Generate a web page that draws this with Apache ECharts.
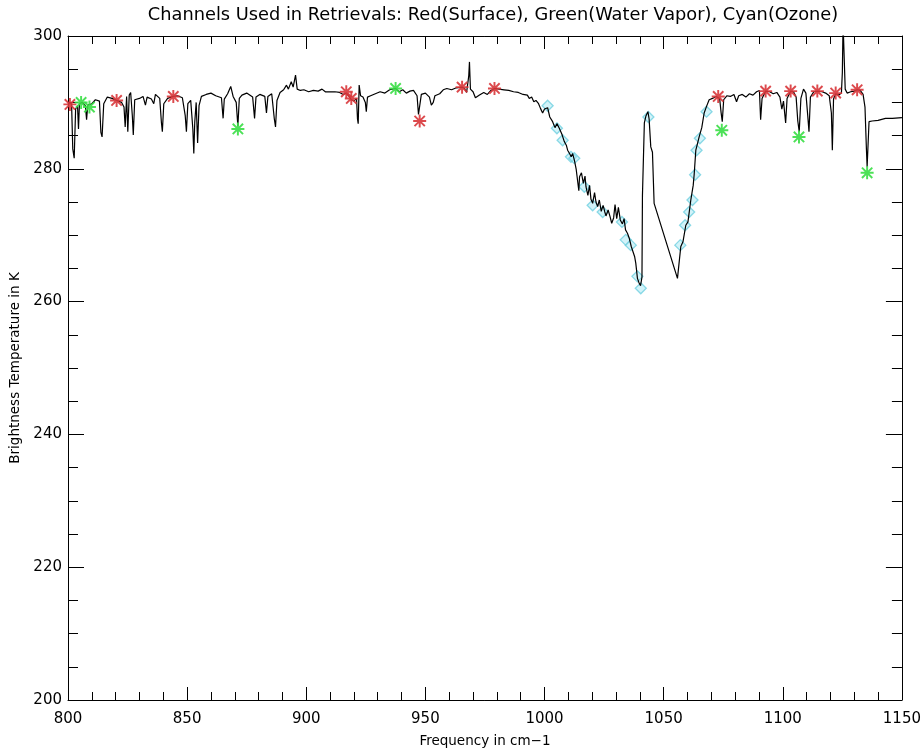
<!DOCTYPE html>
<html>
<head>
<meta charset="utf-8">
<script src="https://cdn.jsdelivr.net/npm/echarts@6/dist/echarts.min.js"></script>
<style>
html,body{margin:0;padding:0;background:#fff;}
#chart{width:924px;height:756px;}
</style>
</head>
<body>
<div id="chart"></div>
<script>
// Spectrum: frequency (cm-1) and brightness temperature (K)
const freq = [800,801.5,802.0,802.6,803.2,804,804.4,804.8,806,807.3,807.8,808.3,810,811.5,813.2,813.8,814.3,815,816.5,818.5,820.4,822.5,823.5,824,824.6,825.1,825.7,826.3,827,827.4,828,830,831.5,832.5,833.2,835,836,836.7,838.5,839.2,839.6,840.2,841.8,844.1,846,848,849.2,849.7,850.3,851.5,852.4,852.8,853.2,853.8,854.4,855,856,858,860,862,864.4,865.1,865.6,867,868.3,869.3,870.6,871.3,871.9,873,875,877.5,878.3,878.9,880.5,882.6,883.3,883.9,885.5,886.6,887.1,887.7,889,890.5,891.7,892.5,893.7,894.5,895.5,896.2,897.5,899,901,903,905,906.6,908,910,912,914,915.5,916.8,917.8,918.9,920,921.1,921.5,921.8,922.2,922.8,923.8,924.8,925.2,925.7,927,929,931,933,935,937.5,939,940.5,942,943.5,945,946.5,947.1,947.9,948.3,950,951.7,952.5,953.3,954,956,957.5,959,961,963,965.4,966.5,967.3,968.2,968.5,968.9,970,971,971.6,972.7,974.5,976,977.5,979,981,983,985,987,989,991,992.8,993.6,994.6,995.5,996.4,997.5,998.3,999.2,1000,1001.3,1002.2,1003.4,1004.4,1005.2,1006.2,1007.3,1008.3,1009.2,1009.7,1010.5,1011.2,1011.8,1012.6,1013.3,1014.1,1014.4,1014.7,1015.5,1016.3,1017,1017.4,1018.2,1018.9,1019.5,1020.2,1021,1021.6,1022.3,1023,1023.8,1024.6,1025.3,1025.8,1026.7,1027.5,1028.2,1029,1029.6,1030.3,1031,1031.8,1032.7,1033.4,1034,1034.8,1035.6,1036.4,1037.2,1037.8,1038.3,1039,1039.7,1040.3,1040.9,1041.1,1041.6,1041.9,1042.6,1043.4,1043.9,1044.6,1045.3,1046,1055.8,1057.2,1058.1,1059.3,1060.2,1061.4,1062.4,1062.8,1063.5,1064.2,1064.9,1066,1067,1068,1069.1,1070.5,1072,1073.5,1074.1,1074.6,1075.2,1076.5,1078,1079.5,1080.6,1081.5,1083,1084.5,1086,1087.5,1089,1090.2,1090.7,1091.3,1092.8,1094.5,1096,1097.5,1098.8,1099.6,1100.3,1101.2,1101.8,1103.3,1104.5,1105.6,1106.3,1106.9,1107.6,1108.7,1109.7,1110.5,1111,1111.6,1113,1114.5,1116.5,1118,1119.5,1120.4,1120.8,1121.3,1122.2,1123.5,1124.6,1125,1125.3,1125.8,1126.2,1127,1128.5,1130,1131.2,1132.5,1133.7,1134.5,1135.1,1135.4,1135.9,1136.2,1137.5,1140,1143.1,1146,1150];
const temp = [289.8,289.8,283,281.6,289,289.5,286,289.8,290,289.5,287.4,289.6,289.8,290.4,290.2,285.5,284.8,289.8,290.8,290.6,290.3,290.0,289.3,286.3,290.9,285.6,291.1,291.5,288,285.1,290.4,290.6,290.9,289.6,290.8,290.5,289.8,291.2,290.6,287,285.6,289.8,290.6,290.9,291.0,290.7,288,285.6,289.8,290.3,286,282.3,287,290,283.9,289.5,290.9,291.2,291.4,291.0,290.7,287.6,290.5,291.3,292.4,290.9,290,286.4,290.6,291.1,291.4,290.8,287.6,290.8,291.2,290.9,288.4,290.9,291.3,287.5,286.3,290.3,291.5,291.9,292.6,292,293.1,292.3,294.1,292,291.8,291.9,291.6,291.8,291.7,292.0,291.6,291.6,291.6,291.5,291.2,291.4,291,290.4,290.2,290.6,287.5,286.8,292.6,291,290.8,290,288.6,290.8,291.0,291.3,291.6,291.4,291.9,292.1,291.6,291.9,291.4,291.7,291.8,291.0,288.2,288.1,291.2,291.4,290.8,289.6,290,291,291.3,291.9,292.1,291.9,292.2,292.3,292.1,291.5,294,296.1,292,291.6,290.7,290.5,291.1,291.5,291.2,291.8,292.1,292.0,291.9,291.8,291.6,291.5,291.2,291.1,290.6,290.8,290.1,290.3,289.8,289.1,288.4,289,289.2,287.8,287.1,286.2,286.8,286.1,285.2,284.1,283.5,282.8,282.3,281.8,282.3,281.2,279.9,280.1,276.7,278.8,279.4,277.8,278.9,277.3,276,277.5,275.4,274.8,276.4,275,274.3,275.3,273.6,274.5,273.5,272.9,273.8,272.8,271.8,272.6,274.6,272.5,274.2,272.3,271.7,272.5,270.8,270.3,269.5,268.3,268.6,266.8,265.8,263.5,262.8,262.4,263.7,276,276.2,286.9,288,288.6,287.5,283.3,282.5,274.8,263.5,268.3,269,271.5,272,275.3,277.5,279.1,282.8,283.8,284.8,286.2,288.4,289.4,290.4,290.6,290.9,290.6,288.5,287.1,290.4,291,290.9,291.2,290.1,291,291.2,290.8,291.3,291.1,291.6,291.8,287.4,290.6,291.7,291.6,291.3,291.5,290.8,289,290.2,286.9,290.6,291.7,291.6,290.8,287.2,285.6,290.6,292.0,291.4,287.9,285.6,290.8,291.6,291.7,291.6,291.4,291.0,288.4,282.8,290.5,291.3,291.1,291.4,294.5,302,302,292,291.4,291.6,291.7,291.9,291.8,291.2,289.3,283,280.3,280.5,287.1,287.2,287.3,287.6,287.6,287.7];

// Channels used in retrievals
const surfaceFreq = [800.8,820.4,844.2,916.8,918.9,947.6,965.4,979.0,1072.9,1092.8,1103.3,1114.5,1122.2,1131.2];
const surfaceTemp = [289.7,290.3,290.9,291.6,290.6,287.2,292.3,292.1,290.9,291.7,291.7,291.7,291.4,291.9];
const vaporFreq = [805.5,809.0,871.3,937.5,1074.4,1106.8,1135.4];
const vaporTemp = [290.0,289.3,286.0,292.1,285.8,284.8,279.4];
const ozoneFreq = [1001.3,1005.2,1007.6,1011.1,1012.5,1016.7,1020.2,1024.4,1032.5,1034.1,1036.2,1039.0,1040.4,1043.6,1057.0,1059.0,1060.7,1062.1,1063.2,1063.8,1065.2,1068.0];
const ozoneTemp = [289.5,286.1,284.3,281.8,281.6,277.3,274.5,273.5,272.0,269.3,268.5,263.8,262.0,287.8,268.5,271.5,273.5,275.3,279.1,282.8,284.6,288.6];

const titleText = 'Channels Used in Retrievals: Red(Surface), Green(Water Vapor), Cyan(Ozone)';
const xName = 'Frequency in cm\u22121';
const yName = 'Brightness Temperature in K';

const zip = (a, b) => a.map((v, i) => [v, b[i]]);

const asterisk = 'path://M0,8.5 L20,8.5 L20,11.5 L0,11.5 Z M8.5,0 L11.5,0 L11.5,20 L8.5,20 Z M1,3.1 L3.1,1 L19,16.9 L16.9,19 Z M16.9,1 L19,3.1 L3.1,19 L1,16.9 Z';

const font = 'DejaVu Sans';
const axisLineStyle = {color: '#000', width: 1};
const plain = v => String(v);

const chart = echarts.init(document.getElementById('chart'), null, {renderer: 'canvas'});
chart.setOption({
  animation: false,
  backgroundColor: '#fff',
  title: {
    text: titleText, left: 488, top: 1, textAlign: 'center',
    textStyle: {fontFamily: font, fontSize: 17.8, fontWeight: 'normal', color: '#000'}
  },
  grid: {left: 68, right: 20, top: 36, bottom: 56},
  xAxis: [{
    type: 'value', min: 800, max: 1150, interval: 50, position: 'bottom',
    name: xName, nameLocation: 'middle', nameGap: 34,
    nameTextStyle: {fontFamily: font, fontSize: 13.5, color: '#000'},
    axisLine: {show: true, lineStyle: axisLineStyle},
    axisTick: {show: true, inside: true, length: 13, lineStyle: axisLineStyle},
    minorTick: {show: true, splitNumber: 5, length: 8, lineStyle: axisLineStyle},
    axisLabel: {margin: 12, fontFamily: font, fontSize: 15, color: '#000', formatter: plain},
    splitLine: {show: false}
  }, {
    type: 'value', min: 800, max: 1150, interval: 50, position: 'top',
    axisLine: {show: true, lineStyle: axisLineStyle},
    axisTick: {show: true, inside: true, length: 13, lineStyle: axisLineStyle},
    minorTick: {show: true, splitNumber: 5, length: 8, lineStyle: axisLineStyle},
    axisLabel: {show: false},
    splitLine: {show: false}
  }],
  yAxis: [{
    type: 'value', min: 200, max: 300, interval: 20, position: 'left',
    name: yName, nameLocation: 'middle', nameGap: 45, nameRotate: 90,
    nameTextStyle: {fontFamily: font, fontSize: 13.5, color: '#000'},
    axisLine: {show: true, lineStyle: axisLineStyle},
    axisTick: {show: true, inside: true, length: 16, lineStyle: axisLineStyle},
    minorTick: {show: true, splitNumber: 4, length: 10, lineStyle: axisLineStyle},
    axisLabel: {margin: 6, fontFamily: font, fontSize: 15, color: '#000', formatter: plain},
    splitLine: {show: false}
  }, {
    type: 'value', min: 200, max: 300, interval: 20, position: 'right',
    axisLine: {show: true, lineStyle: axisLineStyle},
    axisTick: {show: true, inside: true, length: 16, lineStyle: axisLineStyle},
    minorTick: {show: true, splitNumber: 4, length: 10, lineStyle: axisLineStyle},
    axisLabel: {show: false},
    splitLine: {show: false}
  }],
  series: [{
    type: 'line', name: 'Spectrum', data: zip(freq, temp),
    showSymbol: false, clip: true,
    lineStyle: {color: '#000', width: 1.2},
    itemStyle: {color: '#000'}, z: 2
  }, {
    type: 'scatter', name: 'Surface', data: zip(surfaceFreq, surfaceTemp),
    symbol: asterisk, symbolSize: 13,
    itemStyle: {color: '#d8363a', opacity: 0.9}, z: 3
  }, {
    type: 'scatter', name: 'Water Vapor', data: zip(vaporFreq, vaporTemp),
    symbol: asterisk, symbolSize: 13,
    itemStyle: {color: '#39de45', opacity: 0.9}, z: 3
  }, {
    type: 'scatter', name: 'Ozone', data: zip(ozoneFreq, ozoneTemp),
    symbol: 'diamond', symbolSize: 11,
    itemStyle: {color: 'rgba(160,230,242,0.6)', borderColor: '#6fd0e0', borderWidth: 1.3}, z: 1
  }]
});
</script>
</body>
</html>
